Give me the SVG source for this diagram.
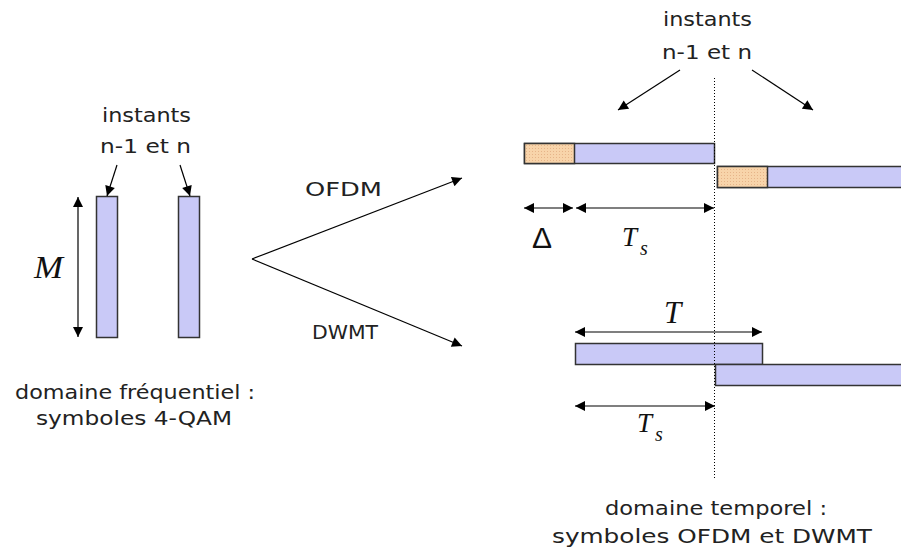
<svg xmlns="http://www.w3.org/2000/svg" width="901" height="553" viewBox="0 0 901 553">
<defs>
<marker id="ah" viewBox="0 0 10 10" refX="10" refY="5" markerWidth="11" markerHeight="10" markerUnits="userSpaceOnUse" orient="auto-start-reverse">
<path d="M0,0 L10,5 L0,10 z" fill="#000"/>
</marker>
<pattern id="dots" width="3" height="3" patternUnits="userSpaceOnUse">
<rect width="3" height="3" fill="#f8d4aa"/>
<rect x="1" y="1" width="1" height="1" fill="#e6b489"/>
</pattern>
<style>
.t{font-family:"DejaVu Sans","Verdana",sans-serif;font-size:19px;fill:#222}
.m{font-family:"Liberation Serif","Times New Roman",serif;font-style:italic;fill:#111}
.bar{fill:#c9c9f7;stroke:#333;stroke-width:1.5}
.cp{fill:url(#dots);stroke:#333;stroke-width:1.5}
.arr{stroke:#000;stroke-width:1.2;fill:none;marker-end:url(#ah)}
.darr{stroke:#000;stroke-width:1.2;fill:none;marker-end:url(#ah);marker-start:url(#ah)}
</style>
</defs>
<rect width="901" height="553" fill="#fff"/>

<g id="freq">
<rect class="bar" x="96.5" y="196.5" width="21" height="141"/>
<rect class="bar" x="178.5" y="196.5" width="21" height="141"/>
<text class="t" x="102" y="122" textLength="89" lengthAdjust="spacingAndGlyphs">instants</text>
<text class="t" x="100" y="153" textLength="91" lengthAdjust="spacingAndGlyphs">n-1 et n</text>
<text class="m" x="34" y="278" font-size="32" textLength="29" lengthAdjust="spacingAndGlyphs">M</text>
<text class="t" x="15" y="399" textLength="240" lengthAdjust="spacingAndGlyphs">domaine fréquentiel :</text>
<text class="t" x="36" y="425" textLength="196" lengthAdjust="spacingAndGlyphs">symboles 4-QAM</text>
</g>

<g id="branch">
<text class="t" x="305" y="196" textLength="77" lengthAdjust="spacingAndGlyphs">OFDM</text>
<text class="t" x="312" y="339" textLength="66" lengthAdjust="spacingAndGlyphs">DWMT</text>
</g>

<g id="ofdm">
<rect class="bar" x="524.5" y="143.5" width="190" height="20"/>
<rect class="cp" x="524.5" y="143.5" width="50" height="20"/>
<rect class="bar" x="717.5" y="166.5" width="190" height="21"/>
<rect class="cp" x="717.5" y="166.5" width="50" height="21"/>
<text x="532" y="248" font-family="Liberation Sans, Arial, sans-serif" font-size="30" fill="#111">Δ</text>
<text class="m" x="622" y="246" font-size="27">T</text>
<text class="m" x="640" y="255" font-size="20">s</text>
</g>

<g id="dwmt">
<rect class="bar" x="575.5" y="343.5" width="187" height="21"/>
<rect class="bar" x="715.5" y="364.5" width="190" height="21"/>
<text class="m" x="664" y="323" font-size="31">T</text>
<text class="m" x="637" y="432" font-size="27">T</text>
<text class="m" x="655" y="441" font-size="20">s</text>
</g>

<g id="time-labels">
<text class="t" x="663" y="26" textLength="89" lengthAdjust="spacingAndGlyphs">instants</text>
<text class="t" x="662" y="59" textLength="90" lengthAdjust="spacingAndGlyphs">n-1 et n</text>
<text class="t" x="605" y="515" textLength="222" lengthAdjust="spacingAndGlyphs">domaine temporel :</text>
<text class="t" x="552" y="543" textLength="320" lengthAdjust="spacingAndGlyphs">symboles OFDM et DWMT</text>
</g>

<g id="connectors">
<line class="arr" x1="117" y1="165" x2="107" y2="196"/>
<line class="arr" x1="180" y1="165" x2="190" y2="196"/>
<line class="darr" x1="78" y1="197" x2="78" y2="337"/>
<line class="arr" x1="252" y1="259" x2="462" y2="178"/>
<line class="arr" x1="252" y1="259" x2="462" y2="346"/>
<line class="arr" x1="680" y1="70" x2="618" y2="110"/>
<line class="arr" x1="752" y1="70" x2="813" y2="110"/>
<line class="darr" x1="524" y1="208" x2="573" y2="208"/>
<line class="darr" x1="576" y1="208" x2="714" y2="208"/>
<line class="darr" x1="575" y1="332" x2="762" y2="332"/>
<line class="darr" x1="575" y1="406" x2="715" y2="406"/>
<line x1="714.5" y1="78" x2="714.5" y2="478" stroke="#000" stroke-width="1" stroke-dasharray="1,2"/>
</g>
</svg>
